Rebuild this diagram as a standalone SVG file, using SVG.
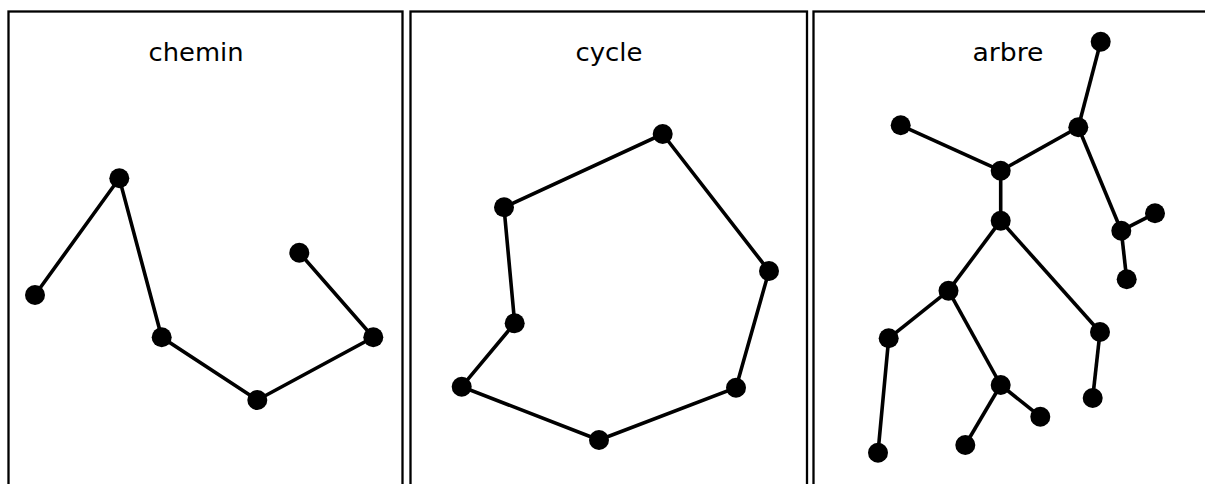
<svg xmlns="http://www.w3.org/2000/svg" width="1205" height="484" viewBox="0 0 1205 484">
<style>
.panel{fill:#fff;stroke:#000;stroke-width:2.3}
.title{font-family:"DejaVu Sans",Verdana,sans-serif;font-size:24px;fill:#000;text-anchor:middle}
.edge{stroke:#000;stroke-width:3.6;fill:none}
.node{fill:#000}
</style>
<rect width="1205" height="484" fill="#fff"/>
<g id="panels">
<rect class="panel" x="8.5" y="11.5" width="394" height="500"/>
<rect class="panel" x="410.5" y="11.5" width="396.5" height="500"/>
<rect class="panel" x="813.5" y="11.5" width="394" height="500"/>
<text class="title" x="196" y="61" textLength="95" lengthAdjust="spacingAndGlyphs">chemin</text>
<text class="title" x="609" y="61" textLength="67" lengthAdjust="spacingAndGlyphs">cycle</text>
<text class="title" x="1008" y="61" textLength="71" lengthAdjust="spacingAndGlyphs">arbre</text>
</g>
<g id="connectors">
<polyline class="edge" points="35,295 119.3,178.3 161.7,337.3 257.3,400 373.3,337.3 299.3,252.7"/>
<polygon class="edge" points="662.7,134 769,271 736,387.7 599,440 461.7,386.7 514.7,323.3 504,207.3"/>
<line class="edge" x1="1100.7" y1="41.7" x2="1078.3" y2="127.3"/>
<line class="edge" x1="1078.3" y1="127.3" x2="1000.7" y2="170.7"/>
<line class="edge" x1="900.7" y1="125.3" x2="1000.7" y2="170.7"/>
<line class="edge" x1="1000.7" y1="170.7" x2="1000.7" y2="220.7"/>
<line class="edge" x1="1078.3" y1="127.3" x2="1121.3" y2="230.7"/>
<line class="edge" x1="1121.3" y1="230.7" x2="1155" y2="213.3"/>
<line class="edge" x1="1121.3" y1="230.7" x2="1126.7" y2="279.3"/>
<line class="edge" x1="1000.7" y1="220.7" x2="948.5" y2="290.7"/>
<line class="edge" x1="1000.7" y1="220.7" x2="1100" y2="332"/>
<line class="edge" x1="1100" y1="332" x2="1092.7" y2="398"/>
<line class="edge" x1="948.5" y1="290.7" x2="888.7" y2="338.3"/>
<line class="edge" x1="888.7" y1="338.3" x2="878" y2="452.7"/>
<line class="edge" x1="948.5" y1="290.7" x2="1000.7" y2="385"/>
<line class="edge" x1="1000.7" y1="385" x2="1040.3" y2="416.7"/>
<line class="edge" x1="1000.7" y1="385" x2="965.3" y2="445"/>
</g>
<g id="chemin-nodes">
<circle id="c1" class="node" cx="35" cy="295" r="10"/>
<circle id="c2" class="node" cx="119.3" cy="178.3" r="10"/>
<circle id="c3" class="node" cx="161.7" cy="337.3" r="10"/>
<circle id="c4" class="node" cx="257.3" cy="400" r="10"/>
<circle id="c5" class="node" cx="373.3" cy="337.3" r="10"/>
<circle id="c6" class="node" cx="299.3" cy="252.7" r="10"/>
</g>
<g id="cycle-nodes">
<circle id="y1" class="node" cx="662.7" cy="134" r="10"/>
<circle id="y2" class="node" cx="769" cy="271" r="10"/>
<circle id="y3" class="node" cx="736" cy="387.7" r="10"/>
<circle id="y4" class="node" cx="599" cy="440" r="10"/>
<circle id="y5" class="node" cx="461.7" cy="386.7" r="10"/>
<circle id="y6" class="node" cx="514.7" cy="323.3" r="10"/>
<circle id="y7" class="node" cx="504" cy="207.3" r="10"/>
</g>
<g id="arbre-nodes">
<circle id="a1" class="node" cx="1100.7" cy="41.7" r="10"/>
<circle id="a2" class="node" cx="1078.3" cy="127.3" r="10"/>
<circle id="a3" class="node" cx="900.7" cy="125.3" r="10"/>
<circle id="a4" class="node" cx="1000.7" cy="170.7" r="10"/>
<circle id="a5" class="node" cx="1000.7" cy="220.7" r="10"/>
<circle id="a6" class="node" cx="1121.3" cy="230.7" r="10"/>
<circle id="a7" class="node" cx="1155" cy="213.3" r="10"/>
<circle id="a8" class="node" cx="1126.7" cy="279.3" r="10"/>
<circle id="a9" class="node" cx="948.5" cy="290.7" r="10"/>
<circle id="a10" class="node" cx="888.7" cy="338.3" r="10"/>
<circle id="a11" class="node" cx="878" cy="452.7" r="10"/>
<circle id="a12" class="node" cx="1000.7" cy="385" r="10"/>
<circle id="a13" class="node" cx="1040.3" cy="416.7" r="10"/>
<circle id="a14" class="node" cx="965.3" cy="445" r="10"/>
<circle id="a15" class="node" cx="1100" cy="332" r="10"/>
<circle id="a16" class="node" cx="1092.7" cy="398" r="10"/>
</g>
</svg>
